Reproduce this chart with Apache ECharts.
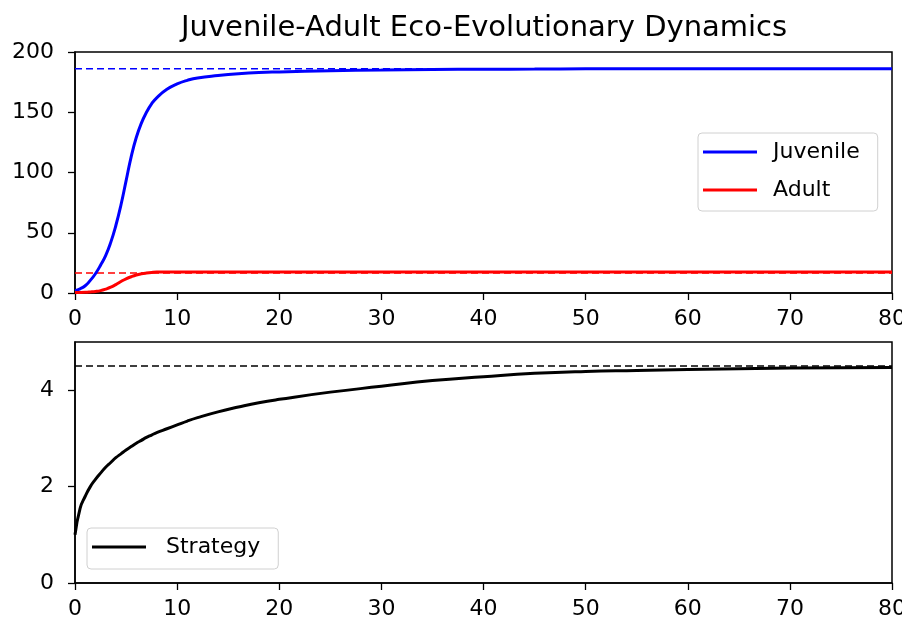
<!DOCTYPE html>
<html lang="en">
<head>
    <meta charset="UTF-8">
    <title>Juvenile-Adult Eco-Evolutionary Dynamics</title>
    <script src="https://cdn.jsdelivr.net/npm/echarts@6.0.0/dist/echarts.min.js"></script>
    <style>
        html, body { margin: 0; padding: 0; background: #fff; }
        #chart { width: 902px; height: 625px; }
    </style>
</head>
<body>
<div id="chart"></div>
<script>
    // time points (non-uniform, denser where curves change fast)
    var time = [0, 0.5, 1, 1.5, 2, 2.5, 3, 3.5, 4, 4.5, 5, 5.5, 6, 6.5, 7, 7.5, 8, 9, 10, 11, 12,
        14, 16, 18, 20, 25, 30, 35, 40, 45, 50, 55, 60, 70, 80];
    var juvenile = [2, 3.5, 6, 10.5, 16, 23, 31, 42, 56, 73, 93, 113, 129, 141, 150, 157, 162, 169, 173.5, 176.5, 178.5,
        180.5, 182, 183, 183.5, 184.5, 185, 185.5, 185.7, 185.8, 186, 186, 186, 186, 186];
    var adult = [0.5, 0.5, 0.6, 0.9, 1.3, 2, 3.2, 4.8, 7, 9.5, 11.8, 13.5, 14.9, 15.9, 16.6, 17.1, 17.4, 17.5, 17.5, 17.5, 17.5,
        17.5, 17.5, 17.5, 17.5, 17.5, 17.5, 17.5, 17.5, 17.5, 17.5, 17.5, 17.5, 17.5, 17.5];
    var strategy = [1.0, 1.55, 1.8, 2.0, 2.15, 2.28, 2.4, 2.5, 2.6, 2.68, 2.76, 2.83, 2.9, 2.96, 3.02, 3.07, 3.12, 3.2, 3.28, 3.36, 3.43,
        3.55, 3.65, 3.74, 3.81, 3.96, 4.08, 4.2, 4.28, 4.35, 4.39, 4.41, 4.43, 4.46, 4.47];

    // equilibrium levels (dashed lines)
    var juvenileEq = 186;
    var adultEq = 16.5;
    var strategyEq = 4.5;

    var xTicks = [0, 10, 20, 30, 40, 50, 60, 70, 80];

    function pairs(ys) {
        return time.map(function (t, i) { return [t, ys[i]]; });
    }
    function flat(v) {
        return [[xTicks[0], v], [xTicks[xTicks.length - 1], v]];
    }

    var font = 'DejaVu Sans';
    var chart = echarts.init(document.getElementById('chart'));

    function xAxis(idx) {
        return {
            type: 'value', gridIndex: idx, min: 0, max: 80, interval: 10,
            axisLine: { show: true, lineStyle: { color: '#000', width: 1.5 } },
            axisTick: { show: true, length: 7, lineStyle: { color: '#000', width: 1.3 } },
            axisLabel: { color: '#000', fontSize: 22, fontFamily: font, margin: 15 },
            splitLine: { show: false }
        };
    }
    function yAxis(idx, max, interval) {
        return {
            type: 'value', gridIndex: idx, min: 0, max: max, interval: interval,
            axisLine: { show: true, lineStyle: { color: '#000', width: 1.5 } },
            axisTick: { show: true, length: 7, lineStyle: { color: '#000', width: 1.3 } },
            axisLabel: { color: '#000', fontSize: 22, fontFamily: font, margin: 21, showMaxLabel: max % interval === 0 },
            splitLine: { show: false }
        };
    }
    function legendStyle(gap) {
        return {
            orient: 'vertical',
            icon: 'rect',
            itemWidth: 54,
            itemHeight: 3,
            itemGap: 16,
            borderColor: '#d0d0d0',
            borderWidth: 1,
            borderRadius: 4,
            backgroundColor: '#fff',
            textStyle: { color: '#000', fontSize: 22, fontFamily: font, padding: [0, 0, 0, gap] }
        };
    }

    var legTop = legendStyle(11);
    legTop.data = ['Juvenile', 'Adult'];
    legTop.left = 698;
    legTop.top = 133;
    legTop.padding = [8, 18, 10, 5];

    var legBot = legendStyle(15);
    legBot.data = ['Strategy'];
    legBot.left = 87;
    legBot.top = 528;
    legBot.padding = [8, 18, 11, 5];

    chart.setOption({
        animation: false,
        title: {
            text: 'Juvenile-Adult Eco-Evolutionary Dynamics',
            left: 176, top: 9,
            textStyle: { color: '#000', fontSize: 29, fontWeight: 'normal', fontFamily: font }
        },
        legend: [legTop, legBot],
        grid: [
            { left: 75, right: 10, top: 52, height: 241, show: true, borderColor: '#000', borderWidth: 1.5, containLabel: false, outerBoundsMode: 'none' },
            { left: 75, right: 10, top: 342, height: 241, show: true, borderColor: '#000', borderWidth: 1.5, containLabel: false, outerBoundsMode: 'none' }
        ],
        xAxis: [xAxis(0), xAxis(1)],
        yAxis: [yAxis(0, 200, 50), yAxis(1, 5, 2)],
        series: [
            {
                name: 'Juvenile', type: 'line', xAxisIndex: 0, yAxisIndex: 0,
                data: pairs(juvenile), smooth: true, showSymbol: false, color: '#0000ff',
                lineStyle: { color: '#0000ff', width: 3 }, z: 3
            },
            {
                name: 'Adult', type: 'line', xAxisIndex: 0, yAxisIndex: 0,
                data: pairs(adult), smooth: true, showSymbol: false, color: '#ff0000',
                lineStyle: { color: '#ff0000', width: 3 }, z: 3
            },
            {
                name: 'Juvenile eq', type: 'line', xAxisIndex: 0, yAxisIndex: 0,
                data: flat(juvenileEq), showSymbol: false,
                lineStyle: { color: '#0000ff', width: 1.5, type: [7, 4] }, z: 2
            },
            {
                name: 'Adult eq', type: 'line', xAxisIndex: 0, yAxisIndex: 0,
                data: flat(adultEq), showSymbol: false,
                lineStyle: { color: '#ff0000', width: 1.5, type: [7, 4] }, z: 2
            },
            {
                name: 'Strategy', type: 'line', xAxisIndex: 1, yAxisIndex: 1,
                data: pairs(strategy), smooth: true, showSymbol: false, color: '#000',
                lineStyle: { color: '#000', width: 3 }, z: 3
            },
            {
                name: 'Strategy eq', type: 'line', xAxisIndex: 1, yAxisIndex: 1,
                data: flat(strategyEq), showSymbol: false,
                lineStyle: { color: '#000', width: 1.5, type: [7, 4] }, z: 2
            }
        ]
    });
</script>
</body>
</html>
